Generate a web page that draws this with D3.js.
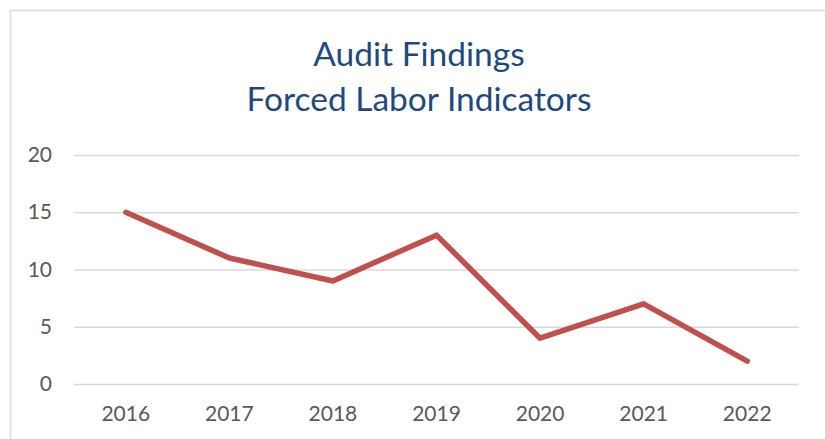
<!DOCTYPE html>
<html>
<head>
<meta charset="utf-8">
<script src="https://cdn.jsdelivr.net/npm/d3@7.9.0/dist/d3.min.js"></script>
<style>
  html, body { margin: 0; padding: 0; background: #fff; }
  svg { display: block; }
</style>
</head>
<body>
<div id="chart"></div>
<script>
// chart values
const years = ['2016', '2017', '2018', '2019', '2020', '2021', '2022'];
const findings = [15, 11, 9, 13, 4, 7, 2];
const yTicks = [0, 5, 10, 15, 20];
const titleLines = ['Audit Findings', 'Forced Labor Indicators'];

const width = 825;
const height = 439;
const font = 'Lato, "Open Sans", sans-serif';

const svg = d3.select('#chart').append('svg')
  .attr('width', width)
  .attr('height', height);

// outer chart border (runs off the right and bottom edges)
svg.append('rect')
  .attr('x', 10.5)
  .attr('y', 10.5)
  .attr('width', 840)
  .attr('height', 460)
  .attr('fill', '#fff')
  .attr('stroke', '#d9d9d9')
  .attr('stroke-width', 1.5);

// title
svg.append('text')
  .attr('x', 419)
  .attr('y', 66)
  .attr('text-anchor', 'middle')
  .attr('font-family', font)
  .attr('font-size', 33.5)
  .attr('fill', '#1f497d')
  .selectAll('tspan')
  .data(titleLines)
  .join('tspan')
  .attr('x', 419)
  .attr('dy', (d, i) => i === 0 ? 0 : 45)
  .text(d => d);

const plot = { left: 74, right: 799, top: 155, bottom: 384 };

const x = d3.scaleBand().domain(years).range([plot.left, plot.right]);
const y = d3.scaleLinear().domain([0, 20]).range([plot.bottom, plot.top]);

// gridlines
const grid = svg.append('g')
  .attr('transform', `translate(${plot.left},0)`)
  .call(d3.axisLeft(y).tickValues(yTicks).tickFormat('').tickSize(-(plot.right - plot.left)));
grid.select('.domain').remove();
grid.selectAll('line').attr('stroke', '#d9d9d9').attr('stroke-width', 1.5);

// y axis labels
const yAxis = svg.append('g')
  .attr('transform', `translate(52,0)`)
  .call(d3.axisLeft(y).tickValues(yTicks).tickSize(0).tickPadding(0));
yAxis.select('.domain').remove();
yAxis.selectAll('text')
  .attr('font-family', font)
  .attr('font-size', 21)
  .attr('fill', '#595959');

// x axis labels
const xAxis = svg.append('g')
  .attr('transform', `translate(0,${plot.bottom})`)
  .call(d3.axisBottom(x).tickSize(0).tickPadding(22));
xAxis.select('.domain').remove();
xAxis.selectAll('text')
  .attr('font-family', font)
  .attr('font-size', 21)
  .attr('fill', '#595959');

// series line
const line = d3.line()
  .x((d, i) => x(years[i]) + x.bandwidth() / 2)
  .y(d => y(d));

svg.append('path')
  .datum(findings)
  .attr('d', line)
  .attr('fill', 'none')
  .attr('stroke', '#c0504d')
  .attr('stroke-width', 5.5)
  .attr('stroke-linecap', 'round')
  .attr('stroke-linejoin', 'round');
</script>
</body>
</html>
